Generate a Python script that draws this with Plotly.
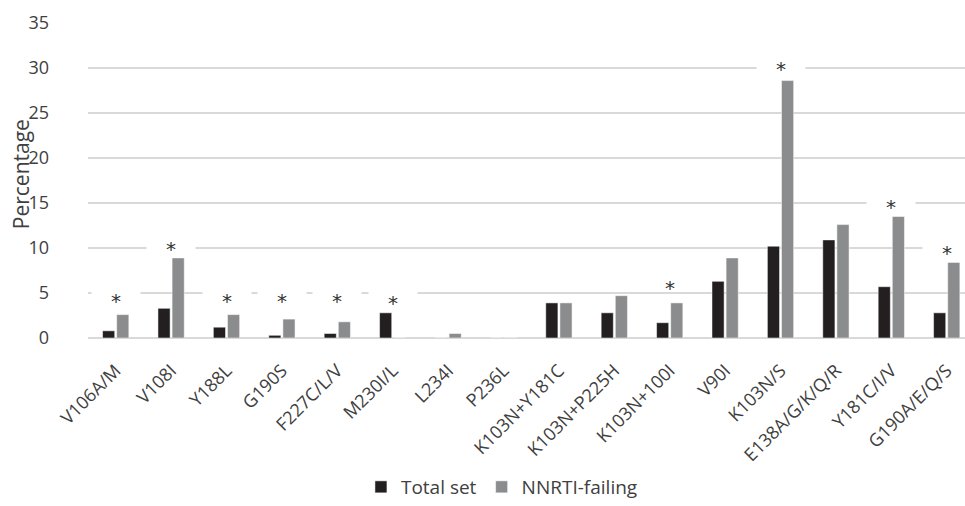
import plotly.graph_objects as go

categories = ["V106A/M", "V108I", "Y188L", "G190S", "F227C/L/V", "M230I/L", "L234I", "P236L",
              "K103N+Y181C", "K103N+P225H", "K103N+100I", "V90I", "K103N/S", "E138A/G/K/Q/R",
              "Y181C/I/V", "G190A/E/Q/S"]
total_set = [0.8, 3.3, 1.2, 0.3, 0.5, 2.8, 0.0, 0.0, 3.9, 2.8, 1.7, 6.3, 10.2, 10.9, 5.7, 2.8]
nnrti_failing = [2.6, 8.9, 2.6, 2.1, 1.8, 0.0, 0.5, 0.0, 3.9, 4.7, 3.9, 8.9, 28.6, 12.6, 13.5, 8.4]
# significance markers: category and label height (value units)
sig_categories = ["V106A/M", "V108I", "Y188L", "G190S", "F227C/L/V", "M230I/L", "K103N+100I",
                  "K103N/S", "Y181C/I/V", "G190A/E/Q/S"]
sig_heights = [5.0, 10.8, 5.0, 5.0, 5.0, 4.8, 6.5, 30.8, 15.5, 10.3]
y_ticks = [0, 5, 10, 15, 20, 25, 30, 35]

FONT = "Open Sans"
TXT = "#404040"
W, H = 965, 506
L, T, B = 88, 23, 159
fig = go.Figure()
fig.add_bar(x=categories, y=total_set, name="Total set", marker_color="#231f20",
            marker_line=dict(color="white", width=0.5))
fig.add_bar(x=categories, y=nnrti_failing, name="NNRTI-failing", marker_color="#8b8c8e",
            marker_line=dict(color="white", width=0.5))

for c, h in zip(sig_categories, sig_heights):
    fig.add_annotation(x=c, y=h, text="*", showarrow=False, bgcolor="white",
                       width=46, height=14, yanchor="middle", yshift=-3,
                       font=dict(family="DejaVu Sans", size=20, color="#333333"), valign="top")

plot_w = W - L
fig.add_annotation(xref="paper", yref="paper", x=(21 - L) / plot_w, y=0.52, text="Percentage",
                   textangle=-90, showarrow=False, xanchor="center", yanchor="middle",
                   font=dict(family=FONT, size=21, color=TXT))

fig.update_layout(
    width=W, height=H,
    margin=dict(l=L, r=0, t=T, b=B),
    plot_bgcolor="white", paper_bgcolor="white",
    barmode="group", bargap=0.49, bargroupgap=0.14,
    font=dict(family=FONT, size=18, color=TXT),
    showlegend=True,
    legend=dict(orientation="h", x=0.472, xanchor="center", y=-0.474, yanchor="middle",
                font=dict(family=FONT, size=19, color=TXT), itemwidth=30,
                traceorder="normal"),
    xaxis=dict(range=[-0.5, 15.33], tickangle=-45, showgrid=False, showline=False,
               ticks="outside", ticklen=14, tickcolor="rgba(0,0,0,0)", automargin=False,
               tickfont=dict(size=18)),
    yaxis=dict(range=[0, 35], tickvals=y_ticks, showgrid=True, gridcolor="#d9d9d9",
               gridwidth=1.5, zeroline=True, zerolinecolor="#d9d9d9", zerolinewidth=1.5,
               showline=False, ticks="", ticklabelstandoff=38, automargin=False,
               tickfont=dict(size=18)),
)
fig.write_html("out.html", config={"displayModeBar": False},
               post_script="document.body.style.margin='0';document.body.style.overflow='hidden';")
